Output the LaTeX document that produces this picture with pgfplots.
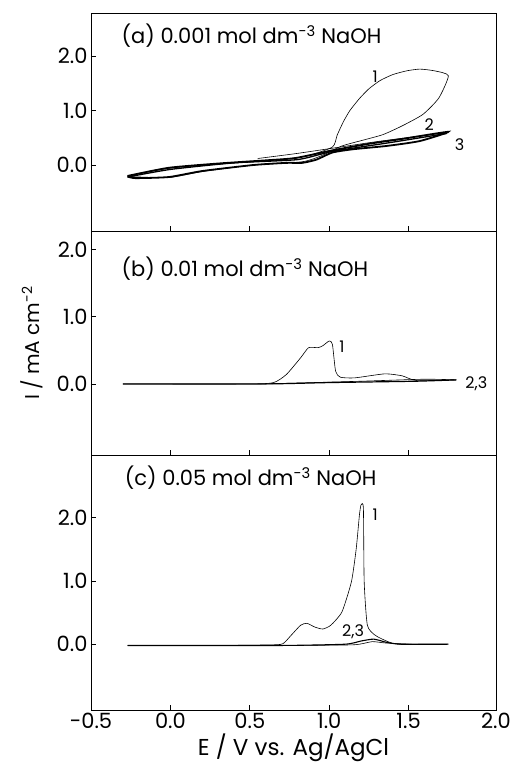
\documentclass[border=0pt]{standalone}
\usepackage{fontspec}
\setmainfont{Poppins}
\usepackage{pgfplots}
\pgfplotsset{compat=1.18}

\pgfplotsset{
  cvpanel/.style={
    scale only axis, width=405pt,
    xmin=-0.5, xmax=2.05,
    xtick={-0.5,0,0.5,1,1.5,2.05},
    ytick={0,1,2},
    tick pos=left, tick align=inside,
    major tick length=5pt,
    axis line style={line width=0.8pt},
    tick style={line width=0.8pt, black},
    /pgf/number format/.cd, fixed, fixed zerofill, precision=1, assume math mode=true,
    /pgfplots/.cd,
    tick label style={font=\fontsize{21}{24}\selectfont},
    cycle list={{black, solid, no markers}},
    every axis plot/.append style={black, line width=0.6pt, smooth, tension=0.35, no markers},
  },
}
\tikzset{
  paneltitle/.style={font=\fontsize{21}{24}\selectfont, anchor=north west},
  num/.style={font=\fontsize{16}{19}\selectfont},
}

\begin{document}
\begin{tikzpicture}
\path (-91pt,-66pt) rectangle (429pt,710pt);

% (c) 0.05 mol dm-3
\begin{axis}[cvpanel, at={(0pt,0pt)}, anchor=south west, height=255pt,
    ymin=-1.04, ymax=2.99,
    xticklabels={-0.5,0.0,0.5,1.0,1.5,2.0},
    xlabel={E / V vs. Ag/AgCl},
    xlabel style={font=\fontsize{23}{26}\selectfont, yshift=2pt}]
\addplot coordinates {(-0.27,-0.02) (0.3,-0.02) (0.65,-0.01) (0.71,0.01) (0.76,0.14) (0.82,0.30) (0.86,0.33) (0.91,0.27) (0.96,0.24) (1.01,0.30) (1.08,0.51) (1.14,0.99) (1.17,1.51) (1.19,2.04) (1.20,2.20) (1.215,2.15) (1.22,0.99) (1.24,0.30) (1.29,0.14) (1.37,0.04) (1.44,0.0) (1.75,0.0)};
\addplot[line width=1.1pt] coordinates {(-0.27,-0.02) (0.7,-0.02) (1.1,0.0) (1.2,0.05) (1.28,0.08) (1.36,0.03) (1.45,0.0) (1.75,0.0)};
\addplot coordinates {(0.7,-0.02) (1.15,-0.01) (1.27,0.04) (1.35,0.02) (1.5,0.0)};
\node[paneltitle] at (rel axis cs:0.075,0.97) {(c) 0.05 mol dm\textsuperscript{-3} NaOH};
\node[num] at (axis cs:1.29,2.04) {1};
\node[num] at (axis cs:1.15,0.19) {2,3};
\end{axis}

% (b) 0.01 mol dm-3
\begin{axis}[cvpanel, at={(0pt,255pt)}, anchor=south west, height=224pt,
    ymin=-1.06, ymax=2.28, xticklabels={},
    ylabel={I / mA cm\textsuperscript{-2}},
    every axis y label/.style={at={(rel axis cs:-0.146,0.5)}, rotate=90, anchor=center, font=\fontsize{20}{24}\selectfont}]
\addplot coordinates {(-0.3,0) (0.5,0) (0.65,0.02) (0.73,0.14) (0.82,0.39) (0.87,0.54) (0.93,0.54) (0.96,0.57) (1.0,0.64) (1.02,0.59) (1.04,0.19) (1.07,0.10) (1.16,0.09) (1.35,0.15) (1.46,0.12) (1.55,0.05) (1.80,0.06)};
\addplot[line width=1.2pt] coordinates {(-0.3,0) (0.6,0) (1.0,0.02) (1.54,0.04) (1.80,0.06)};
\addplot coordinates {(0.6,0) (1.2,0.04) (1.6,0.07) (1.80,0.06)};
\node[paneltitle] at (rel axis cs:0.067,0.90) {(b) 0.01 mol dm\textsuperscript{-3} NaOH};
\node[num] at (axis cs:1.08,0.55) {1};
\node[num, anchor=west, inner sep=1pt] at (axis cs:1.85,0.0) {2,3};
\end{axis}

% (a) 0.001 mol dm-3
\begin{axis}[cvpanel, at={(0pt,479pt)}, anchor=south west, height=218pt,
    ymin=-1.21, ymax=2.79, xticklabels={}]
\addplot coordinates {(-0.27,-0.20) (-0.01,-0.06) (0.31,0.02) (0.62,0.08) (0.85,0.16) (1.02,0.33) (1.05,0.55) (1.09,0.80) (1.13,1.00) (1.19,1.22) (1.25,1.40) (1.32,1.55) (1.40,1.66) (1.49,1.73) (1.57,1.76) (1.66,1.73) (1.75,1.64) (1.69,1.23) (1.59,0.93) (1.46,0.72) (1.34,0.56) (1.23,0.47) (1.08,0.35) (0.95,0.17) (0.83,0.06) (0.52,0.0) (0.20,-0.12) (-0.01,-0.23) (-0.27,-0.21)};
\addplot[line width=1.8pt] coordinates {(-0.27,-0.20) (-0.01,-0.05) (0.31,0.03) (0.62,0.09) (0.79,0.13) (1.02,0.27) (1.25,0.39) (1.46,0.48) (1.75,0.61) (1.57,0.44) (1.36,0.35) (1.15,0.29) (1.02,0.23) (0.92,0.10) (0.83,0.04) (0.73,0.04) (0.52,0.0) (0.20,-0.11) (-0.01,-0.22) (-0.22,-0.24) (-0.27,-0.21)};
\addplot coordinates {(0.55,0.12) (0.79,0.21) (1.0,0.30) (1.3,0.43) (1.67,0.57) (1.72,0.60)};
\addplot[line width=1.3pt] coordinates {(-0.27,-0.22) (0.0,-0.08) (0.4,0.04) (0.8,0.10) (1.02,0.25) (1.4,0.42) (1.74,0.58)};
\node[paneltitle] at (rel axis cs:0.067,0.965) {(a) 0.001 mol dm\textsuperscript{-3} NaOH};
\node[num] at (axis cs:1.29,1.62) {1};
\node[num] at (axis cs:1.63,0.74) {2};
\node[num] at (axis cs:1.82,0.38) {3};
\end{axis}
\end{tikzpicture}
\end{document}
